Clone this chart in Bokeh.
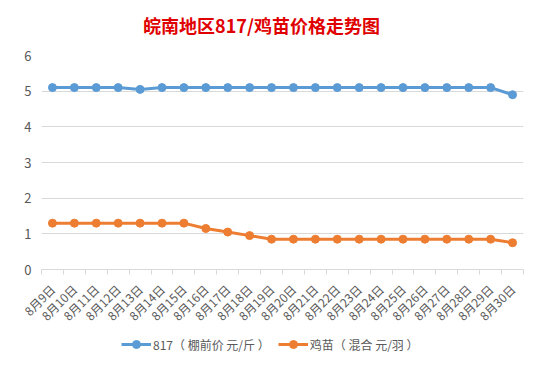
from bokeh.plotting import figure
from bokeh.layouts import column
from bokeh.models import Range1d, FixedTicker, Legend, LegendItem, ColumnDataSource, Label
from bokeh.embed import file_html
from bokeh.resources import INLINE

dates = ["8月9日", "8月10日", "8月11日", "8月12日", "8月13日", "8月14日", "8月15日",
         "8月16日", "8月17日", "8月18日", "8月19日", "8月20日", "8月21日", "8月22日",
         "8月23日", "8月24日", "8月25日", "8月26日", "8月27日", "8月28日", "8月29日",
         "8月30日"]
price_817 = [5.1, 5.1, 5.1, 5.1, 5.05, 5.1, 5.1, 5.1, 5.1, 5.1, 5.1, 5.1, 5.1, 5.1,
             5.1, 5.1, 5.1, 5.1, 5.1, 5.1, 5.1, 4.9]
price_chick = [1.3, 1.3, 1.3, 1.3, 1.3, 1.3, 1.3, 1.15, 1.05, 0.95, 0.85, 0.85, 0.85,
               0.85, 0.85, 0.85, 0.85, 0.85, 0.85, 0.85, 0.85, 0.75]
series_names = ["817（ 棚前价 元/斤 ）", "鸡苗（ 混合 元/羽 ）"]
y_ticks = [0, 1, 2, 3, 4, 5, 6]
title_text = "皖南地区817/鸡苗价格走势图"

xs = list(range(len(dates)))
src = ColumnDataSource(dict(x=xs, a=price_817, b=price_chick))

FONT = "Noto Sans CJK SC"
GRAY = "#595959"
BLUE = "#5b9bd5"
ORANGE = "#ed7d31"
W = 524

# title strip
p0 = figure(width=W, height=40, output_backend="svg", toolbar_location=None,
            x_range=Range1d(0, 1), y_range=Range1d(0, 1),
            x_axis_location=None, y_axis_location=None,
            min_border_left=0, min_border_right=0, min_border_top=0, min_border_bottom=0)
p0.grid.visible = False
p0.outline_line_color = None
p0.border_fill_color = "white"
p0.add_layout(Label(x=220, y=16, x_units="screen", y_units="screen", text=title_text,
                    text_align="center", text_baseline="middle",
                    text_color="#e00000", text_font=FONT, text_font_size="18px",
                    text_font_style="bold"))

# main chart
p = figure(width=W, height=292, output_backend="svg", toolbar_location=None,
           x_range=Range1d(-0.5, len(dates) - 0.5), y_range=Range1d(0, 6),
           min_border_left=41, min_border_right=1, min_border_top=15, min_border_bottom=62)
p.outline_line_color = None
p.background_fill_color = "white"
p.border_fill_color = "white"

p.xgrid.visible = False
p.ygrid.grid_line_color = "#d9d9d9"
p.ygrid.grid_line_width = 1

p.yaxis.ticker = FixedTicker(ticks=y_ticks)
p.yaxis.axis_line_color = None
p.yaxis.major_tick_line_color = None
p.yaxis.major_tick_out = 0
p.yaxis.minor_tick_line_color = None
p.yaxis.major_label_text_color = GRAY
p.yaxis.major_label_text_font = FONT
p.yaxis.major_label_text_font_size = "13px"
p.yaxis.major_label_standoff = 10

p.xaxis.ticker = FixedTicker(ticks=xs, minor_ticks=[i - 0.5 for i in range(len(dates) + 1)])
p.xaxis.major_label_overrides = {i: d for i, d in enumerate(dates)}
p.xaxis.major_label_orientation = 0.785398
p.xaxis.major_label_text_color = GRAY
p.xaxis.major_label_text_font = FONT
p.xaxis.major_label_text_font_size = "12px"
p.xaxis.major_label_standoff = 12
p.xaxis.major_tick_line_color = None
p.xaxis.major_tick_out = 0
p.xaxis.axis_line_color = "#d9d9d9"
p.xaxis.minor_tick_line_color = "#d9d9d9"
p.xaxis.minor_tick_out = 5
p.xaxis.minor_tick_in = 0

p.line("x", "a", source=src, line_color=BLUE, line_width=3)
p.scatter("x", "a", source=src, size=8, fill_color=BLUE, line_color=BLUE)
p.line("x", "b", source=src, line_color=ORANGE, line_width=3)
p.scatter("x", "b", source=src, size=8, fill_color=ORANGE, line_color=ORANGE)

# legend strip below the chart (series drawn out of view, used only as legend proxies)
p2 = figure(width=W, height=22, output_backend="svg", toolbar_location=None,
            x_range=Range1d(1000, 1001), y_range=Range1d(1000, 1001),
            x_axis_location=None, y_axis_location=None,
            min_border_left=0, min_border_right=0, min_border_top=0, min_border_bottom=0)
p2.grid.visible = False
p2.outline_line_color = None
p2.border_fill_color = "white"
k1 = p2.line("x", "a", source=src, line_color=BLUE, line_width=3)
m1 = p2.scatter("x", "a", source=src, size=8, fill_color=BLUE, line_color=BLUE)
k2 = p2.line("x", "b", source=src, line_color=ORANGE, line_width=3)
m2 = p2.scatter("x", "b", source=src, size=8, fill_color=ORANGE, line_color=ORANGE)

legend = Legend(items=[LegendItem(label=series_names[0], renderers=[k1, m1]),
                       LegendItem(label=series_names[1], renderers=[k2, m2])],
                orientation="horizontal", location=(80, 0),
                label_text_font=FONT, label_text_font_size="12px",
                label_text_color=GRAY, border_line_color=None,
                background_fill_alpha=0,
                glyph_width=30, label_standoff=2, spacing=8, padding=2, margin=0)
p2.add_layout(legend, "center")

open("out.html", "w").write(file_html(column(p0, p, p2, spacing=0), INLINE))
